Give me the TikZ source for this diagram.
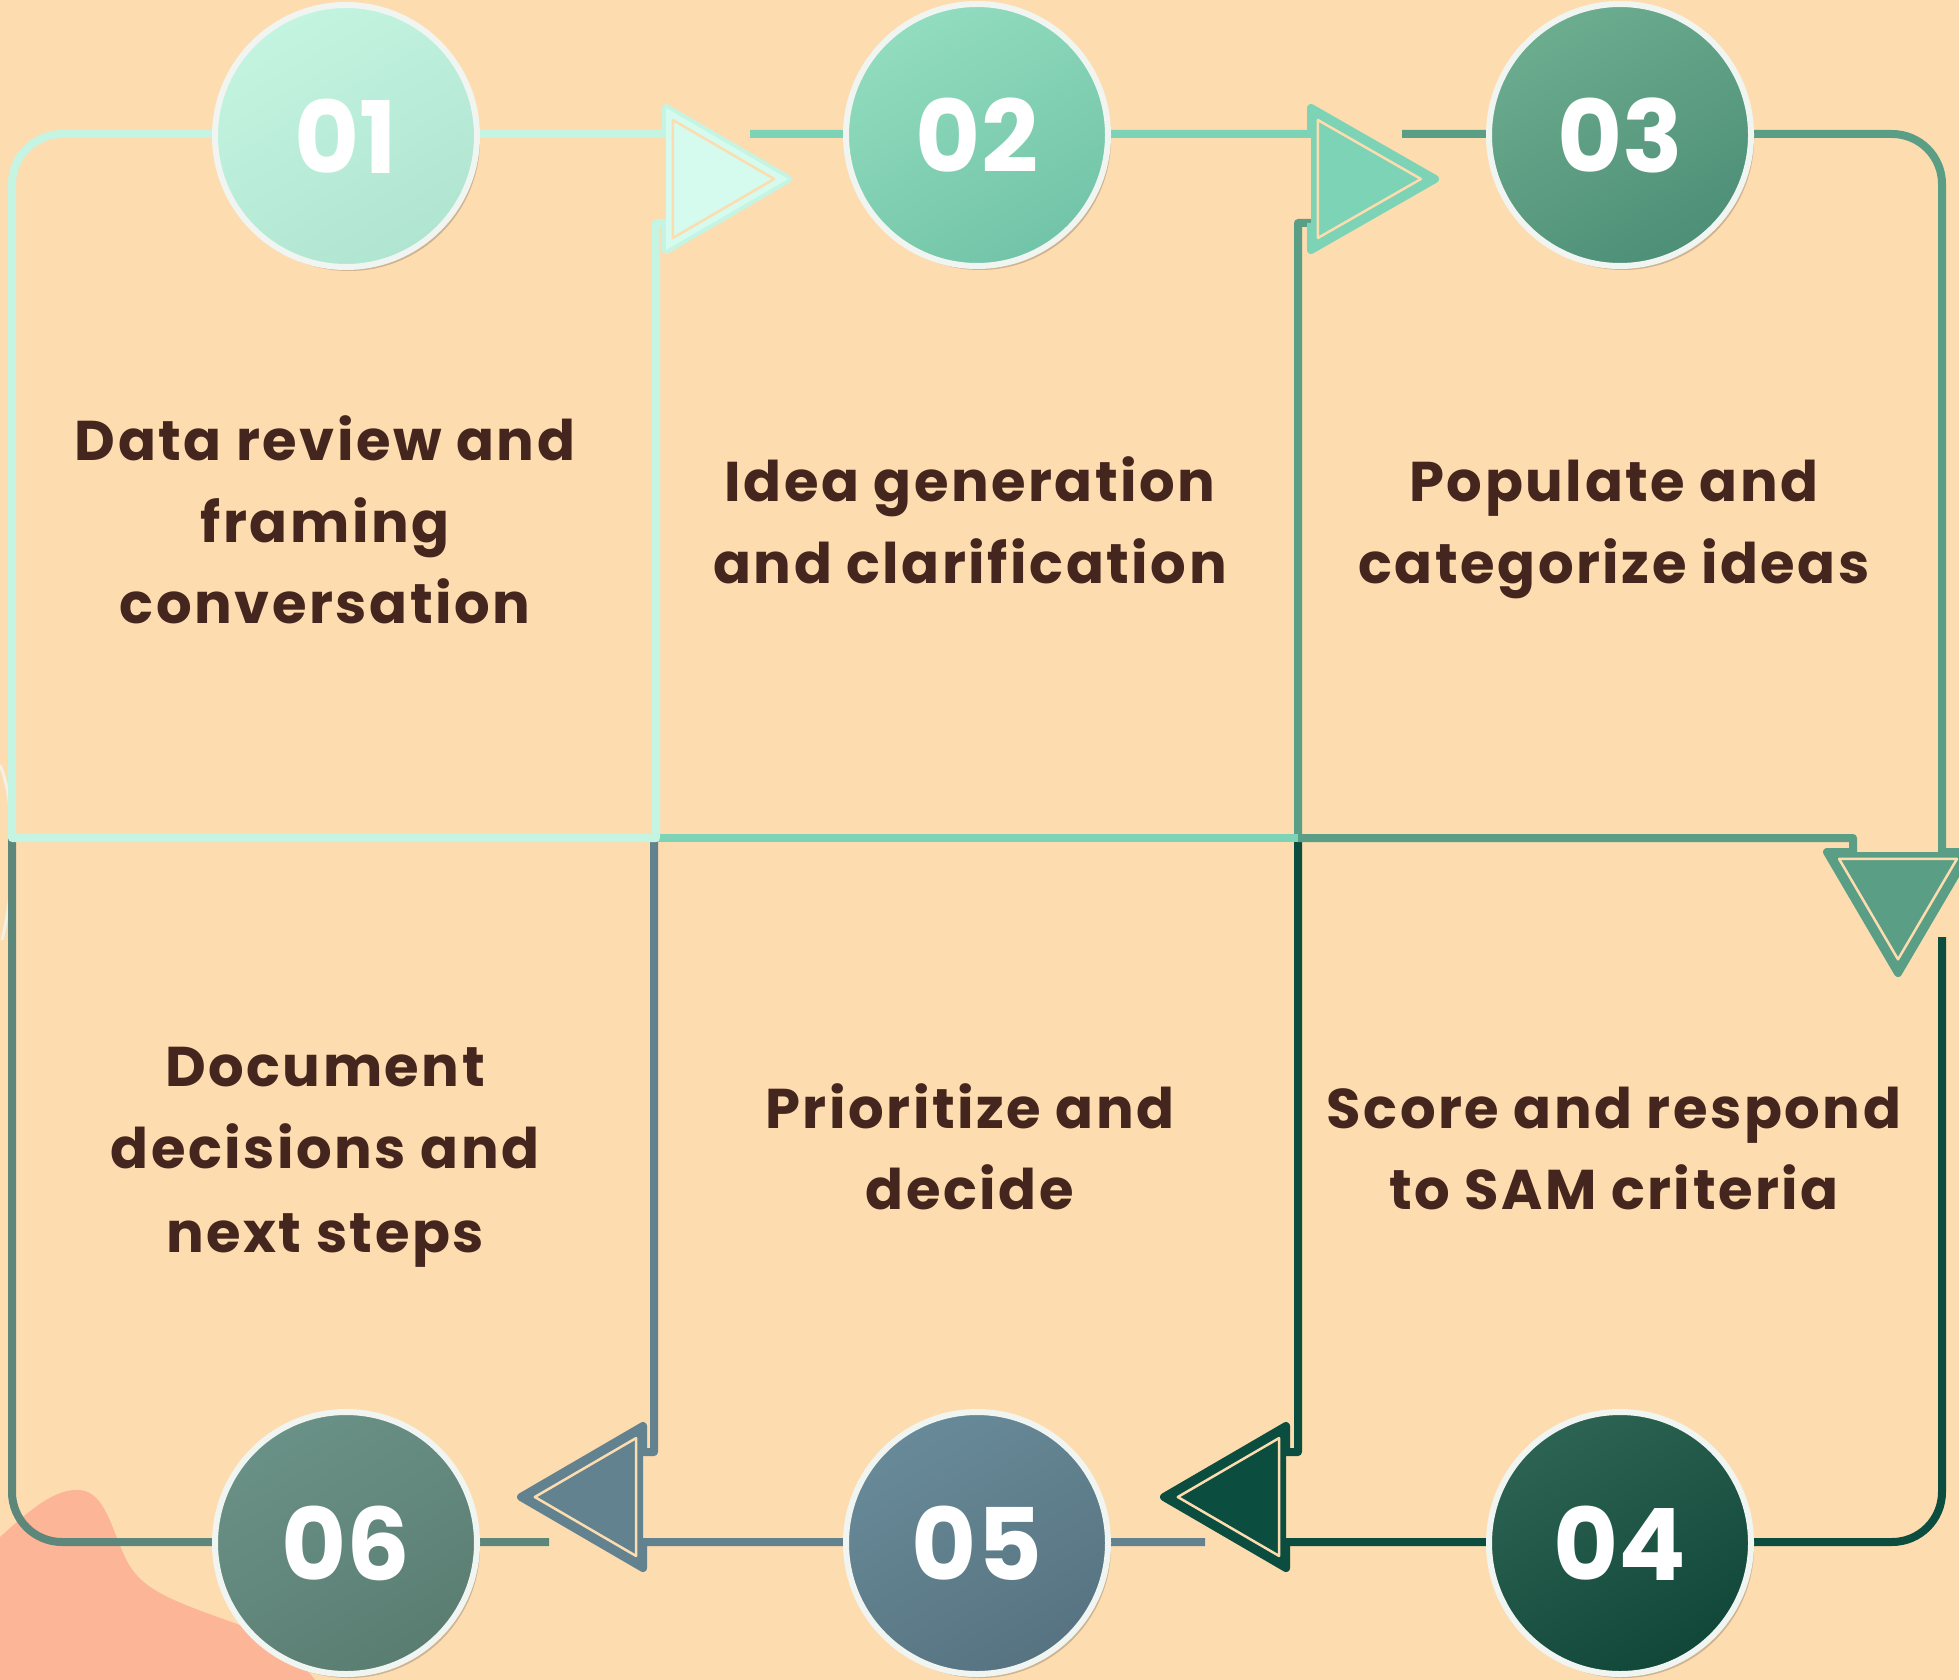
\documentclass[tikz,border=0pt]{standalone}
\usepackage{fontspec}
\setmainfont{Poppins}
\newfontfamily\lblfont{Poppins}[LetterSpace=4.5]
\usetikzlibrary{shadows}
\definecolor{bg}{HTML}{FDDCB0}
\definecolor{blob}{HTML}{FDB597}
\definecolor{txt}{HTML}{45261F}
\definecolor{ca}{HTML}{C6F4E2}
\definecolor{caf}{HTML}{D4FBEE}
\definecolor{cb}{HTML}{7DD3B5}
\definecolor{cc}{HTML}{5A9E85}
\definecolor{cd}{HTML}{0B4D3E}
\definecolor{ce}{HTML}{62828F}
\definecolor{cf}{HTML}{5E877C}
\definecolor{ring}{HTML}{F1F5F2}
\definecolor{ga1}{HTML}{C3F4E0}\definecolor{gb1}{HTML}{B0E5D2}
\definecolor{ga2}{HTML}{92DCBF}\definecolor{gb2}{HTML}{72C4A8}
\definecolor{ga3}{HTML}{6CAC8F}\definecolor{gb3}{HTML}{4D8F77}
\definecolor{ga4}{HTML}{2D6352}\definecolor{gb4}{HTML}{114739}
\definecolor{ga5}{HTML}{688A98}\definecolor{gb5}{HTML}{577381}
\definecolor{ga6}{HTML}{6A9187}\definecolor{gb6}{HTML}{5A7D71}
\begin{document}
\begin{tikzpicture}[x=1pt,y=-1pt,line join=round,
  flow/.style={line width=8pt},
  gapline/.style={draw=bg,line width=2.5pt},
  numcirc/.style={circle,minimum size=262pt,inner sep=0pt,draw=ring,line width=6pt,
    font=\fontsize{100}{100}\selectfont\bfseries,text=white,
    drop shadow={shadow xshift=3pt,shadow yshift=-4pt,opacity=0.18,fill=black}},
  lbl/.style={anchor=base,text=txt,font=\lblfont\fontsize{56}{60}\selectfont\bfseries}]
\useasboundingbox (0,0) rectangle (1959,1680);
\fill[bg] (0,0) rectangle (1959,1680);
% decorative blob
\fill[blob] (0,1537) .. controls (30,1510) and (55,1488) .. (80,1490)
  .. controls (105,1492) and (112,1530) .. (125,1557)
  .. controls (140,1590) and (170,1600) .. (240,1625)
  .. controls (280,1640) and (300,1660) .. (315,1680) -- (0,1680) -- cycle;
\draw[draw=ring!80!bg,line width=3pt] (0,765) .. controls (15,800) and (17,880) .. (2,940);
% path 6
\draw[flow,cf] (549,1542) -- (62,1542) arc[start angle=90,end angle=180,radius=50] -- (12,838);
% path 5
\draw[flow,ce] (1205,1542) -- (643,1542) -- (643,1568) -- (521,1497) -- (643,1426) -- (643,1452) -- (654,1452) -- (654,838);
\fill[ce] (643,1568) -- (521,1497) -- (643,1426) -- cycle;
\draw[gapline,scale around={0.83:(602.2,1497)}] (643,1568) -- (521,1497) -- (643,1426) -- cycle;
% path 4
\draw[flow,cd] (1942,937) -- (1942,1492) arc[start angle=0,end angle=90,radius=50] -- (1286,1542) -- (1286,1568) -- (1164,1497) -- (1286,1426) -- (1286,1452) -- (1298,1452) -- (1298,838);
\fill[cd] (1286,1568) -- (1164,1497) -- (1286,1426) -- cycle;
\draw[gapline,scale around={0.83:(1245.2,1497)}] (1286,1568) -- (1164,1497) -- (1286,1426) -- cycle;
% path 3
\draw[flow,cc] (1402,134) -- (1892,134) arc[start angle=270,end angle=360,radius=50] -- (1942,852) -- (1969,852) -- (1898,973) -- (1827,852) -- (1853,852) -- (1853,838) -- (1298,838) -- (1298,223) -- (1311,223);
\fill[cc] (1969,852) -- (1898,973) -- (1827,852) -- cycle;
\draw[gapline,scale around={0.83:(1898,892.8)}] (1969,852) -- (1898,973) -- (1827,852) -- cycle;
% path 2
\draw[flow,cb] (750,134) -- (1311,134) -- (1311,108) -- (1435,179) -- (1311,250) -- (1311,223);
\draw[flow,cb] (1298,838) -- (656,838);
\fill[cb] (1311,108) -- (1435,179) -- (1311,250) -- cycle;
\draw[gapline,scale around={0.83:(1352,179)}] (1311,108) -- (1435,179) -- (1311,250) -- cycle;
% path 1
\draw[flow,ca] (656,838) -- (12,838) -- (12,184) arc[start angle=180,end angle=270,radius=50] -- (666,134) -- (666,108) -- (788,179) -- (666,250) -- (666,223) -- (656,223) -- cycle;
\fill[caf] (666,108) -- (788,179) -- (666,250) -- cycle;
\draw[gapline,scale around={0.83:(706.8,179)}] (666,108) -- (788,179) -- (666,250) -- cycle;
% circles
\node[numcirc,top color=ga1,bottom color=gb1,shading angle=30] (n1) at (346,136) {01};
\node[numcirc,top color=ga2,bottom color=gb2,shading angle=30] (n2) at (977,135) {02};
\node[numcirc,top color=ga3,bottom color=gb3,shading angle=30] (n3) at (1620,135) {03};
\node[numcirc,top color=ga4,bottom color=gb4,shading angle=30] (n4) at (1620,1543) {04};
\node[numcirc,top color=ga5,bottom color=gb5,shading angle=30] (n5) at (977,1543) {05};
\node[numcirc,top color=ga6,bottom color=gb6,shading angle=30] (n6) at (346,1543) {06};
% labels
\node[lbl] (t1a) at (325,460) {Data review and};
\node[lbl] (t1b) at (325,542) {framing};
\node[lbl] (t1c) at (325,623) {conversation};
\node[lbl] (t2a) at (970,501) {Idea generation};
\node[lbl] (t2b) at (970,583) {and clarification};
\node[lbl] (t3a) at (1614,501) {Populate and};
\node[lbl] (t3b) at (1614,583) {categorize ideas};
\node[lbl] (t6a) at (325,1086) {Document};
\node[lbl] (t6b) at (325,1168) {decisions and};
\node[lbl] (t6c) at (325,1252) {next steps};
\node[lbl] (t5a) at (970,1128) {Prioritize and};
\node[lbl] (t5b) at (970,1209) {decide};
\node[lbl] (t4a) at (1614,1128) {Score and respond};
\node[lbl] (t4b) at (1614,1209) {to SAM criteria};
\end{tikzpicture}
\end{document}
